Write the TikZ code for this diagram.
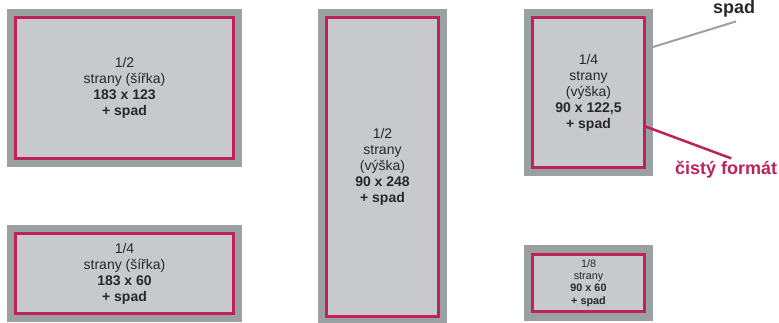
\documentclass[tikz,border=0pt]{standalone}
\usepackage{fontspec}
\setmainfont{Liberation Sans}
\setsansfont{Liberation Sans}
\usetikzlibrary{
  positioning,
  calc}
\definecolor{bleedcolor}{RGB}{155,160,161}
\definecolor{trimcolor}{RGB}{200,201,204}
\definecolor{framecolor}{RGB}{190,34,88}
\definecolor{textcolor}{RGB}{40,40,40}
\tikzset{
  %% bleed : the grey area of the ad including the bleed
  bleed/.style={
    rectangle,
    fill=bleedcolor,
    inner sep=0pt,
    outer sep=0pt
  },
  %% trim : the net format of the ad
  trim/.style={
    rectangle,
    fill=trimcolor,
    draw=framecolor,
    line width=2.7pt,
    inner sep=0pt,
    text=textcolor,
    font=\fontsize{14}{16}\selectfont,
    align=center
  },
  %% smalltrim : the net format of the small ad
  smalltrim/.style={
    trim,
    font=\fontsize{10.8}{12.4}\selectfont
  },
  %% legend : the explanation texts on the right
  legend/.style={
    inner sep=0pt,
    font=\fontsize{18}{20}\selectfont\bfseries
  },
  %% bleedline : pointer to the bleed
  bleedline/.style={bleedcolor, line width=2pt},
  %% trimline : pointer to the net format
  trimline/.style={framecolor, line width=2.5pt}
}

\begin{document}
\begin{tikzpicture}
  [x=1pt,
  y=-1pt,
  align=center]
  \sffamily

  \useasboundingbox (0, 0) rectangle (779, 323);

  %% Half page, landscape
  \node (bleed1) [bleed, minimum width=235pt, minimum height=158pt]
  at (124.5, 88) {};
  \node (trim1) [trim, minimum width=218pt, minimum height=141pt]
  at (bleed1) {%
    1/2\\
    strany (šířka)\\
    \textbf{183 x 123}\\
    \textbf{+ spad}
  };

  %% Quarter page, landscape
  \node (bleed2) [bleed, minimum width=235pt, minimum height=97pt]
  at (124.5, 273.5) {};
  \node (trim2) [trim, minimum width=218pt, minimum height=80pt]
  at (bleed2) {%
    1/4\\
    strany (šířka)\\
    \textbf{183 x 60}\\
    \textbf{+ spad}
  };

  %% Half page, portrait
  \node (bleed3) [bleed, minimum width=129pt, minimum height=316pt]
  at (382.5, 167) {};
  \node (trim3) [trim, minimum width=112pt, minimum height=299pt]
  at (bleed3) {%
    1/2\\
    strany\\
    (výška)\\
    \textbf{90 x 248}\\
    \textbf{+ spad}
  };

  %% Quarter page, portrait
  \node (bleed4) [bleed, minimum width=129pt, minimum height=167pt]
  at (588.5, 92.5) {};
  \node (trim4) [trim, minimum width=112pt, minimum height=150pt]
  at (bleed4) {%
    1/4\\
    strany\\
    (výška)\\
    \textbf{90 x 122,5}\\
    \textbf{+ spad}
  };

  %% Eighth page
  \node (bleed5) [bleed, minimum width=129pt, minimum height=76pt]
  at (588.5, 283) {};
  \node (trim5) [smalltrim, minimum width=112pt, minimum height=57pt]
  at (bleed5) {%
    1/8\\
    strany\\
    \textbf{90 x 60}\\
    \textbf{+ spad}
  };

  %% Legend
  \node (spadlabel) [legend, text=textcolor, anchor=base] at (734, 13.5) {%
    spad};
  \node (cistylabel) [legend, text=framecolor, anchor=base west]
  at (675, 175) {%
    čistý formát};

  \draw [bleedline] ([yshift=-38pt]bleed4.north east)
  -- ([xshift=2pt, yshift=-4pt]spadlabel.south);
  \draw [trimline] ([yshift=-110.5pt]trim4.north east)
  -- ([xshift=5pt, yshift=3pt]cistylabel.north);

\end{tikzpicture}
\end{document}
